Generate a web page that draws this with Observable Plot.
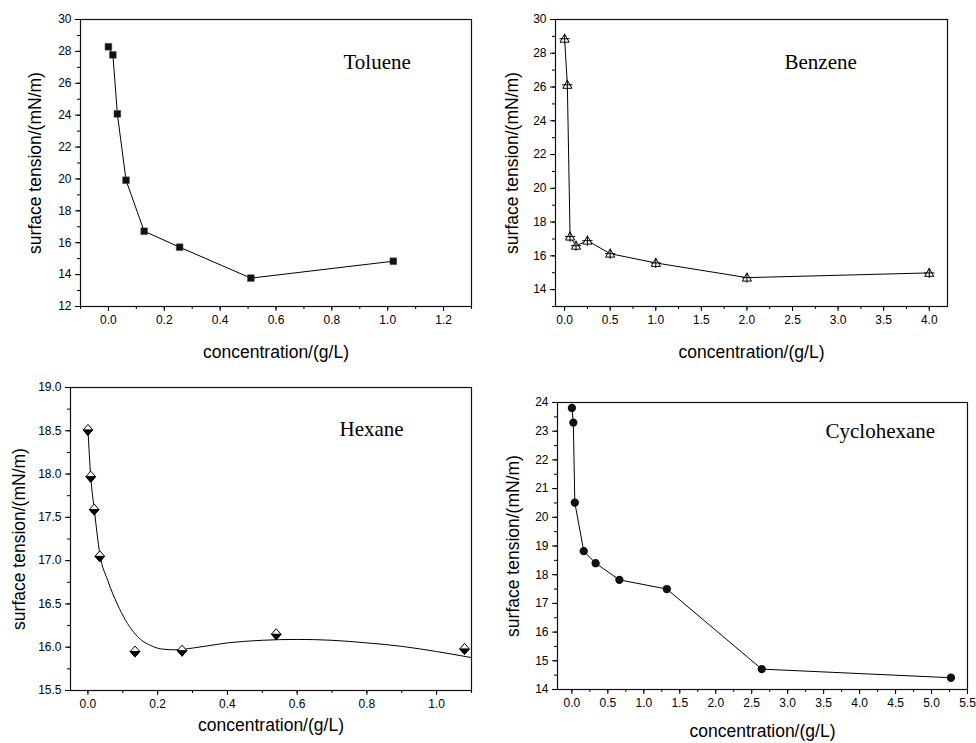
<!DOCTYPE html>
<html>
<head>
<meta charset="utf-8">
<script src="https://cdn.jsdelivr.net/npm/d3@7"></script>
<script src="https://cdn.jsdelivr.net/npm/@observablehq/plot@0.6"></script>
<style>
  body { margin: 0; background: #fff; }
  #wrap { position: relative; width: 976px; height: 743px; background: #fff; overflow: hidden; }
  #wrap > svg { position: absolute; }
</style>
</head>
<body>
<div id="wrap"></div>
<script>
// ---------- data ----------
const xLabel = "concentration/(g/L)";
const yLabel = "surface tension/(mN/m)";

const tolueneX = [0, 0.016, 0.032, 0.063, 0.128, 0.255, 0.51, 1.02];
const tolueneY = [28.29, 27.78, 24.08, 19.92, 16.72, 15.72, 13.78, 14.84];

const benzeneX = [0, 0.03, 0.06, 0.125, 0.25, 0.5, 1.0, 2.0, 4.0];
const benzeneY = [28.86, 26.13, 17.14, 16.6, 16.9, 16.13, 15.58, 14.71, 14.99];

const hexaneX = [0, 0.008, 0.018, 0.034, 0.135, 0.27, 0.54, 1.08];
const hexaneY = [18.51, 17.97, 17.59, 17.05, 15.95, 15.96, 16.15, 15.98];
// fitted curve
const hexaneFitX = [0, 0.008, 0.018, 0.034, 0.057, 0.084, 0.108, 0.13, 0.154, 0.18, 0.21, 0.25, 0.3, 0.4, 0.5, 0.6, 0.7, 0.8, 0.9, 1.0, 1.1];
const hexaneFitY = [18.52, 17.97, 17.6, 17.08, 16.77, 16.5, 16.31, 16.18, 16.08, 16.02, 15.98, 15.97, 15.99, 16.05, 16.08, 16.09, 16.08, 16.05, 16.01, 15.95, 15.88];

const cycloX = [0, 0.02, 0.041, 0.165, 0.33, 0.66, 1.32, 2.64, 5.27];
const cycloY = [23.81, 23.30, 20.51, 18.82, 18.40, 17.82, 17.50, 14.71, 14.41];

// tick labels
const tolueneXTicks = [0, 0.2, 0.4, 0.6, 0.8, 1.0, 1.2];
const tolueneYTicks = [12, 14, 16, 18, 20, 22, 24, 26, 28, 30];
const benzeneXTicks = [0, 0.5, 1.0, 1.5, 2.0, 2.5, 3.0, 3.5, 4.0];
const benzeneYTicks = [14, 16, 18, 20, 22, 24, 26, 28, 30];
const hexaneXTicks = [0, 0.2, 0.4, 0.6, 0.8, 1.0];
const hexaneYTicks = [15.5, 16.0, 16.5, 17.0, 17.5, 18.0, 18.5, 19.0];
const cycloXTicks = [0, 0.5, 1.0, 1.5, 2.0, 2.5, 3.0, 3.5, 4.0, 4.5, 5.0, 5.5];
const cycloYTicks = [14, 15, 16, 17, 18, 19, 20, 21, 22, 23, 24];

const zip = (xs, ys) => xs.map((x, i) => ({x, y: ys[i]}));

// custom symbols
const halfDiamondLower = {
  draw(ctx, size) {
    const r = Math.sqrt(size / Math.PI);
    const w = r, h = r * 1.15;
    ctx.moveTo(-w, 0); ctx.lineTo(w, 0); ctx.lineTo(0, h); ctx.closePath();
  }
};
const diamondFull = {
  draw(ctx, size) {
    const r = Math.sqrt(size / Math.PI);
    const w = r, h = r * 1.15;
    ctx.moveTo(-w, 0); ctx.lineTo(0, -h); ctx.lineTo(w, 0); ctx.lineTo(0, h); ctx.closePath();
  }
};
const triOpen = {
  draw(ctx, size) {
    const r = Math.sqrt(size / Math.PI);
    ctx.moveTo(0, -r); ctx.lineTo(r, r * 0.75); ctx.lineTo(-r, r * 0.75); ctx.closePath();
  }
};

function minorTicks(lo, hi, step) {
  const out = [];
  for (let v = lo; v <= hi + 1e-9; v += step) out.push(+v.toFixed(6));
  return out;
}

function panel(o) {
  const fx = d3.format(o.xFmt), fy = d3.format(o.yFmt);
  return Plot.plot({
    width: o.width, height: o.height,
    marginLeft: o.ml, marginRight: o.mr, marginTop: o.mt, marginBottom: o.mb,
    style: {fontFamily: "'Liberation Sans', Arial, sans-serif", fontSize: "12px", background: "white", color: "black", overflow: "visible"},
    x: {domain: o.xDomain, label: null},
    y: {domain: o.yDomain, label: null},
    marks: [
      Plot.axisX(o.xMinor, {tickSize: 3, text: null, stroke: "black"}),
      Plot.axisY(o.yMinor, {tickSize: 3, text: null, stroke: "black"}),
      Plot.axisX(o.xTicks, {tickSize: 5, tickPadding: 4, tickFormat: fx, stroke: "black", fill: "black", fontSize: 12, label: null}),
      Plot.axisY(o.yTicks, {tickSize: 5, tickPadding: 4, tickFormat: fy, stroke: "black", fill: "black", fontSize: 12, label: null}),
      Plot.frame({stroke: "#111", strokeWidth: 1.2}),
      ...o.marks,
      Plot.text([o.name], {frameAnchor: "top-left", dx: o.nameDx, dy: o.nameDy, textAnchor: "start", lineAnchor: "bottom",
        fontFamily: "'Liberation Serif', 'Times New Roman', serif", fontSize: 21, fill: "black"}),
      Plot.text([xLabel], {frameAnchor: "bottom", dy: o.xlDy, lineAnchor: "middle", fontSize: 17.5, fill: "black"}),
      Plot.text([yLabel], {frameAnchor: "left", dx: o.ylDx, rotate: -90, lineAnchor: "middle", textAnchor: "middle", fontSize: 17.5, fill: "black"})
    ]
  });
}

const wrap = document.getElementById("wrap");
function place(svg, left, top) {
  svg.style.left = left + "px";
  svg.style.top = top + "px";
  wrap.appendChild(svg);
}

// Toluene
const tol = zip(tolueneX, tolueneY);
place(panel({
  width: 490, height: 370, ml: 80, mr: 19, mt: 19, mb: 64,
  xDomain: [-0.1, 1.3], yDomain: [12, 30],
  xTicks: tolueneXTicks, yTicks: tolueneYTicks,
  xMinor: minorTicks(-0.1, 1.3, 0.1), yMinor: minorTicks(12, 30, 1),
  xFmt: ".1f", yFmt: "d",
  name: "Toluene", nameDx: 263, nameDy: 49, xlDy: 46, ylDx: -45,
  marks: [
    Plot.line(tol, {x: "x", y: "y", stroke: "black", strokeWidth: 1}),
    Plot.dot(tol, {x: "x", y: "y", symbol: "square", r: 3.8, fill: "#111", stroke: "#444", strokeWidth: 0.5})
  ]
}), 0, 0);

// Benzene
const ben = zip(benzeneX, benzeneY);
place(panel({
  width: 486, height: 370, ml: 65, mr: 29, mt: 19, mb: 64,
  xDomain: [-0.1, 4.2], yDomain: [13, 30],
  xTicks: benzeneXTicks, yTicks: benzeneYTicks,
  xMinor: minorTicks(0, 4.0, 0.25), yMinor: minorTicks(13, 30, 1),
  xFmt: ".1f", yFmt: "d",
  name: "Benzene", nameDx: 229, nameDy: 49, xlDy: 46, ylDx: -43,
  marks: [
    Plot.line(ben, {x: "x", y: "y", stroke: "black", strokeWidth: 1}),
    Plot.dot(ben, {x: "x", y: "y", symbol: triOpen, r: 4.6, fill: "white", stroke: "black", strokeWidth: 1}),
    Plot.dot(ben, {x: "x", y: "y", symbol: "plus", r: 3.4, stroke: "black", strokeWidth: 1})
  ]
}), 490, 0);

// Hexane
const hex = zip(hexaneX, hexaneY);
const hexFit = zip(hexaneFitX, hexaneFitY);
place(panel({
  width: 490, height: 373, ml: 70, mr: 19, mt: 17, mb: 53,
  xDomain: [-0.05, 1.1], yDomain: [15.5, 19.0],
  xTicks: hexaneXTicks, yTicks: hexaneYTicks,
  xMinor: minorTicks(-0.1, 1.1, 0.1).filter(v => v >= -0.05), yMinor: minorTicks(15.5, 19.0, 0.25),
  xFmt: ".1f", yFmt: ".1f",
  name: "Hexane", nameDx: 269, nameDy: 48, xlDy: 35, ylDx: -51,
  marks: [
    Plot.line(hexFit, {x: "x", y: "y", stroke: "black", strokeWidth: 1, curve: "monotone-x"}),
    Plot.dot(hex, {x: "x", y: "y", symbol: diamondFull, r: 4.8, fill: "white", stroke: "black", strokeWidth: 1}),
    Plot.dot(hex, {x: "x", y: "y", symbol: halfDiamondLower, r: 4.8, fill: "black", stroke: "black", strokeWidth: 1})
  ]
}), 0, 370);

// Cyclohexane
const cyc = zip(cycloX, cycloY);
place(panel({
  width: 486, height: 373, ml: 67, mr: 9, mt: 32, mb: 54,
  xDomain: [-0.2, 5.5], yDomain: [14, 24],
  xTicks: cycloXTicks, yTicks: cycloYTicks,
  xMinor: minorTicks(0, 5.5, 0.25), yMinor: minorTicks(14, 24, 0.5),
  xFmt: ".1f", yFmt: "d",
  name: "Cyclohexane", nameDx: 268, nameDy: 35, xlDy: 42, ylDx: -44,
  marks: [
    Plot.line(cyc, {x: "x", y: "y", stroke: "black", strokeWidth: 1}),
    Plot.dot(cyc, {x: "x", y: "y", r: 3.4, fill: "#111", stroke: "#111"})
  ]
}), 490, 370);
</script>
</body>
</html>
